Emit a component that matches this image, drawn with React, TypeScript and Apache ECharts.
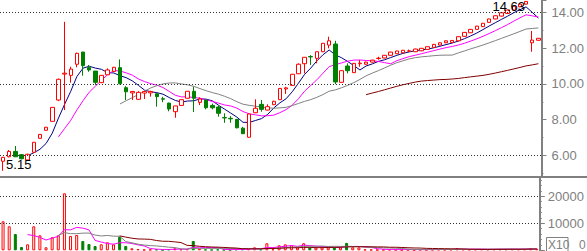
import React, { useEffect, useRef } from "react";
import * as echarts from "echarts";

// OHLC
const opens = [
  5.68, 5.93, 6.23, 6.05, 5.75, 6.18, 6.96, 7.41, 7.91, 9.10,
  10.55, 10.48, 11.10, 11.78, 10.91, 10.72, 10.07, 10.51, 10.70, 10.91,
  9.79, 9.50, 9.14, 9.49, 9.50, 9.45, 9.17, 8.93, 8.45, 8.80,
  9.20, 9.59, 8.97, 9.10, 8.80, 8.71, 8.12, 8.08, 8.02, 7.53,
  7.02, 8.39, 8.86, 8.54, 8.84, 9.12, 9.72, 9.92, 10.57, 11.13,
  11.53, 11.43, 11.80, 12.17, 12.23, 10.09, 11.00, 10.63, 11.13, 11.10,
  11.22, 11.42, 11.45, 11.60, 11.69, 11.74, 11.83, 11.80, 11.85, 11.93,
  12.04, 12.17, 12.30, 12.32, 12.41, 12.66, 12.86, 13.05, 13.20, 13.44,
  13.63, 13.79, 13.94, 14.13, 14.31, 14.46, 12.30, 12.44,
];
const closes = [
  5.90, 6.23, 5.93, 5.82, 6.07, 6.74, 7.18, 7.58, 8.69, 10.26,
  10.60, 10.83, 11.71, 11.02, 10.78, 10.09, 10.48, 10.78, 10.93, 10.01,
  9.56, 9.58, 9.53, 9.58, 9.58, 9.29, 9.15, 8.60, 8.77, 9.12,
  9.59, 9.20, 9.16, 8.67, 8.67, 8.36, 8.10, 8.05, 7.55, 7.22,
  8.32, 8.64, 8.58, 8.73, 9.03, 9.75, 9.78, 10.54, 11.10, 11.49,
  11.51, 11.80, 12.27, 12.41, 10.11, 10.74, 10.74, 11.15, 11.16, 11.22,
  11.33, 11.44, 11.60, 11.78, 11.84, 11.88, 11.85, 11.95, 11.99, 12.08,
  12.21, 12.30, 12.41, 12.43, 12.64, 12.88, 13.05, 13.23, 13.39, 13.63,
  13.81, 13.98, 14.13, 14.35, 14.46, 14.61, 12.45, 12.55,
];
const lows = [
  5.15, 5.90, 5.93, 5.78, 5.72, 6.15, 6.94, 7.40, 7.90, 9.04,
  8.54, 10.07, 10.93, 10.46, 10.68, 9.94, 10.05, 10.50, 10.68, 9.98,
  9.10, 9.10, 9.12, 9.16, 9.29, 8.73, 8.98, 8.47, 8.11, 8.78,
  9.18, 8.43, 8.82, 8.58, 8.58, 8.17, 7.83, 7.83, 7.52, 7.20,
  7.00, 8.37, 8.45, 8.52, 8.82, 9.10, 9.44, 9.90, 10.55, 10.59,
  11.06, 11.15, 11.78, 11.99, 9.99, 10.07, 10.59, 10.61, 10.96, 11.08,
  11.20, 11.35, 11.43, 11.58, 11.67, 11.72, 11.78, 11.78, 11.83, 11.91,
  12.02, 12.15, 12.28, 12.30, 12.39, 12.64, 12.84, 13.03, 13.18, 13.42,
  13.61, 13.77, 13.92, 14.11, 14.29, 14.44, 11.80, 12.42,
];
const highs = [
  5.92, 6.31, 6.53, 6.08, 6.10, 6.76, 7.20, 7.60, 8.70, 10.30,
  13.47, 10.96, 11.75, 11.80, 11.06, 10.72, 10.50, 10.87, 10.95, 11.37,
  9.88, 9.60, 9.60, 9.60, 9.62, 9.47, 9.28, 8.95, 8.78, 9.13,
  9.60, 9.84, 9.25, 9.12, 8.90, 8.80, 8.36, 8.20, 8.04, 7.60,
  8.33, 9.14, 9.10, 8.86, 9.06, 9.77, 9.84, 10.56, 11.15, 11.50,
  11.61, 11.82, 12.29, 12.64, 12.41, 10.76, 11.15, 11.17, 11.33, 11.24,
  11.35, 11.52, 11.62, 11.80, 11.86, 11.90, 11.92, 11.97, 12.01, 12.10,
  12.23, 12.32, 12.43, 12.45, 12.66, 12.90, 13.07, 13.25, 13.41, 13.65,
  13.83, 14.00, 14.15, 14.37, 14.48, 14.63, 12.96, 12.57,
];
const volumes = [
  10740, 8890, 6040, 1220, 2220, 8890, 5550, 1110, 4810, 5550,
  21110, 5300, 5670, 3440, 2330, 1590, 2220, 2960, 2220, 5040,
  1590, 740, 480, 250, 300, 350, 200, 400, 740, 400,
  480, 3440, 600, 300, 250, 300, 250, 200, 400, 450,
  500, 1100, 400, 2600, 400, 1850, 2200, 1850, 1000, 2600,
  1100, 1100, 1100, 1100, 1100, 1100, 2750, 1100, 1100, 300,
  250, 200, 250, 300, 250, 200, 250, 200, 300, 250,
  300, 350, 300, 350, 800, 400, 350, 400, 450, 400,
  450, 500, 450, 500, 450, 500, 850, 600,
];
const categories = opens.map((_, i) => `D${i + 1}`);
const priceTicks = [6, 10, 14];
const volumeTicks = [10000, 20000];

function ma(arr: number[], n: number): (number | string)[] {
  return arr.map((_, i) => {
    if (i < n - 1) return "-";
    let s = 0;
    for (let k = i - n + 1; k <= i; k++) s += arr[k];
    return +(s / n).toFixed(3);
  });
}

const GRAY = "#808080";
const FONT = "Liberation Sans";

export default function App() {
  const ref = useRef<HTMLDivElement>(null);
  useEffect(() => {
    if (!ref.current) return;
    const chart = echarts.init(ref.current, undefined, { renderer: "svg" });
    const kdata = opens.map((o, i) => [o, closes[i], lows[i], highs[i]]);
    let lowIdx = 0;
    let highIdx = 0;
    lows.forEach((v, i) => { if (v < lows[lowIdx]) lowIdx = i; });
    highs.forEach((v, i) => { if (v > highs[highIdx]) highIdx = i; });
    const volData = volumes.map((v, i) => {
      const up = closes[i] >= opens[i];
      return {
        value: v,
        itemStyle: up
          ? { color: "#ffffff", borderColor: "#ff0000", borderWidth: 1 }
          : { color: "#008000", borderColor: "#008000", borderWidth: 1 },
      };
    });
    const dotted = { color: "#303030", width: 1, type: [1, 2] as any, opacity: 1 };
    const gridLines = (vals: number[]) => ({
      silent: true,
      symbol: ["none", "none"],
      precision: 2,
      label: { show: false },
      lineStyle: dotted,
      emphasis: { disabled: true },
      data: vals.map((v) => ({ yAxis: v })),
    });
    const line = (data: any, color: string, xi: number, yi: number) => ({
      type: "line",
      data,
      xAxisIndex: xi,
      yAxisIndex: yi,
      showSymbol: false,
      symbol: "none",
      silent: true,
      lineStyle: { color, width: 1 },
      z: 2,
    });
    chart.setOption({
      animation: false,
      backgroundColor: "#ffffff",
      textStyle: { fontFamily: FONT },
      grid: [
        { left: 0, top: 0, width: 544, height: 177 },
        { left: 0, top: 177, width: 544, height: 73.3 },
      ],
      xAxis: [
        { type: "category", data: categories, gridIndex: 0, show: false, boundaryGap: true },
        { type: "category", data: categories, gridIndex: 1, show: false, boundaryGap: true },
      ],
      yAxis: [
        {
          type: "value",
          gridIndex: 0,
          position: "right",
          min: 4.8,
          max: 14.69,
          splitNumber: 5,
          splitLine: { show: false },
          axisLine: { show: true, lineStyle: { color: GRAY, width: 2 } },
          axisTick: { show: true, length: 5, lineStyle: { color: GRAY, width: 1 } },
          minorTick: { show: true, splitNumber: 2, length: 2, lineStyle: { color: GRAY } },
          axisLabel: {
            color: GRAY,
            fontSize: 13,
            fontFamily: FONT,
            margin: 10,
            showMinLabel: false,
            showMaxLabel: false,
            formatter: (v: number) => v.toFixed(2),
          },
        },
        {
          type: "value",
          gridIndex: 1,
          position: "right",
          min: 0,
          max: 27150,
          interval: 10000,
          splitLine: { show: false },
          axisLine: { show: true, lineStyle: { color: GRAY, width: 2 } },
          axisTick: { show: true, length: 5, lineStyle: { color: GRAY, width: 1 } },
          minorTick: { show: true, splitNumber: 5, length: 2, lineStyle: { color: GRAY } },
          axisLabel: {
            color: GRAY,
            fontSize: 13,
            fontFamily: FONT,
            margin: 8,
            showMinLabel: false,
            showMaxLabel: false,
            formatter: (v: number) => String(v),
          },
        },
      ],
      series: [
        {
          type: "line",
          data: [],
          xAxisIndex: 0,
          yAxisIndex: 0,
          silent: true,
          z: 1,
          markLine: gridLines(priceTicks),
        },
        {
          type: "line",
          data: [],
          xAxisIndex: 1,
          yAxisIndex: 1,
          silent: true,
          z: 1,
          markLine: gridLines(volumeTicks),
        },
        line(ma(closes, 5), "#000080", 0, 0),
        line(ma(closes, 10), "#ff00ff", 0, 0),
        line(ma(closes, 20), "#808080", 0, 0),
        line(ma(closes, 60), "#800000", 0, 0),
        {
          type: "candlestick",
          data: kdata,
          xAxisIndex: 0,
          yAxisIndex: 0,
          barWidth: 4,
          z: 3,
          silent: true,
          itemStyle: {
            color: "#ffffff",
            color0: "#008000",
            borderColor: "#ff0000",
            borderColor0: "#008000",
            borderWidth: 1,
          },
          markPoint: {
            symbol: "circle",
            symbolSize: 0,
            silent: true,
            label: {
              show: true,
              color: "#000000",
              fontSize: 13,
              fontFamily: FONT,
              formatter: (p: any) => Number(p.value).toFixed(2),
            },
            data: [
              {
                coord: [lowIdx, lows[lowIdx]],
                value: lows[lowIdx],
                label: { position: "right", distance: 3, offset: [0, -6] },
              },
              {
                coord: [highIdx, highs[highIdx]],
                value: highs[highIdx],
                label: { position: "left", distance: 1, offset: [0, 5] },
              },
            ],
          },
        },
        {
          type: "bar",
          data: volData,
          xAxisIndex: 1,
          yAxisIndex: 1,
          barWidth: 3,
          silent: true,
          z: 3,
        },
        { ...line(ma(volumes, 5), "#ff00ff", 1, 1), z: 4 },
        { ...line(ma(volumes, 10), "#808080", 1, 1), z: 4 },
        { ...line(ma(volumes, 20), "#800000", 1, 1), z: 4 },
      ],
      graphic: [
        {
          type: "line",
          shape: { x1: 0, y1: 177, x2: 587, y2: 177 },
          style: { stroke: GRAY, lineWidth: 2 },
          z: 10,
        },
        {
          type: "rect",
          shape: { x: 546.5, y: 237.5, width: 21.5, height: 16 },
          style: { fill: "#ffffff", stroke: GRAY, lineWidth: 1 },
          z: 10,
        },
        {
          type: "text",
          x: 548,
          y: 238.5,
          style: { text: "X10", fill: GRAY, font: `12px ${FONT}` },
          z: 11,
        },
        {
          type: "text",
          x: 579,
          y: 238.5,
          style: { text: "0", fill: GRAY, font: `12px ${FONT}` },
          z: 11,
        },
      ],
    });
    return () => chart.dispose();
  }, []);
  return (
    <div
      ref={ref}
      style={{ position: "fixed", left: 0, top: 0, width: 587, height: 251, background: "#fff" }}
    />
  );
}
